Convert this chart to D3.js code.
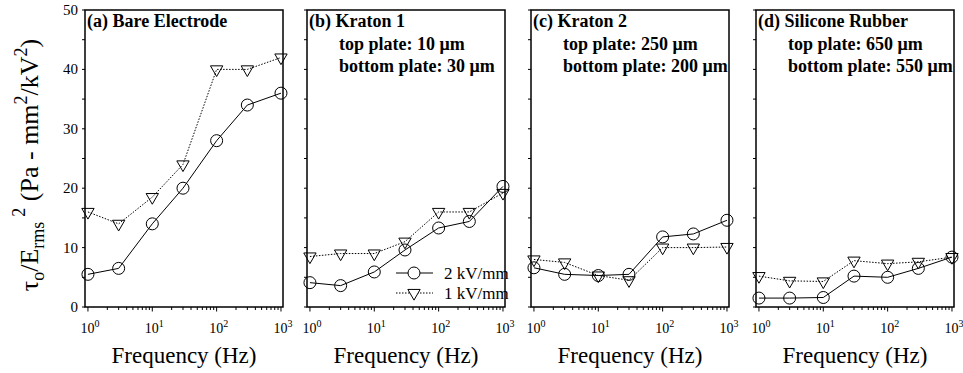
<!DOCTYPE html>
<html><head><meta charset="utf-8">
<script src="https://cdn.jsdelivr.net/npm/d3@7"></script>
<style>body{margin:0;background:#fff}svg{display:block} svg text{font-family:"Liberation Serif","Times New Roman",Times,serif;}</style>
</head><body>
<script>
const freqs = [1, 3, 10, 30, 100, 300, 1000];
const bare2 = [5.5, 6.5, 14.0, 20.0, 28.0, 34.0, 36.0];
const bare1 = [16.0, 14.0, 18.5, 24.0, 40.0, 40.0, 42.0];
const kraton1_2 = [4.1, 3.6, 5.9, 9.6, 13.3, 14.4, 20.3];
const kraton1_1 = [8.5, 9.0, 9.0, 11.0, 16.0, 16.0, 19.2];
const kraton2_2 = [6.6, 5.5, 5.3, 5.5, 11.8, 12.3, 14.6];
const kraton2_1 = [8.0, 7.5, 5.3, 4.5, 10.0, 10.0, 10.1];
const silicone2 = [1.5, 1.5, 1.6, 5.2, 5.0, 6.5, 8.4];
const silicone1 = [5.2, 4.4, 4.3, 7.8, 7.3, 7.6, 8.4];
const panelTitles = [
  ["(a) Bare Electrode"],
  ["(b) Kraton 1", "top plate: 10 \u03bcm", "bottom plate: 30 \u03bcm"],
  ["(c) Kraton 2", "top plate: 250 \u03bcm", "bottom plate: 200 \u03bcm"],
  ["(d) Silicone Rubber", "top plate: 650 \u03bcm", "bottom plate: 550 \u03bcm"]
];
const legendLabels = ["2 kV/mm", "1 kV/mm"];
const yTickLabels = [0, 10, 20, 30, 40, 50];
const xTickLabels = ["0", "1", "2", "3"];
const xLabel = "Frequency (Hz)";

const W = 963, H = 373;
const FONT = "Liberation Serif, Times New Roman, Times, serif";
const svg = d3.select("body").append("svg").attr("width", W).attr("height", H)
  .attr("font-family", FONT);

const panels = [
  {left: 85, s2: bare2, s1: bare1},
  {left: 307, s2: kraton1_2, s1: kraton1_1},
  {left: 531, s2: kraton2_2, s1: kraton2_1},
  {left: 756, s2: silicone2, s1: silicone1}
];
const pTop = 10, pBottom = 307, pw = 198, ph = pBottom - pTop;

const x = d3.scaleLog().domain([0.9, 1075]).range([0, pw]);
const y = d3.scaleLinear().domain([0, 50]).range([ph, 0]);

const tri = d3.symbol().type(d3.symbolTriangle).size(66);

panels.forEach((p, i) => {
  const g = svg.append("g").attr("transform", `translate(${p.left},${pTop})`);
  const ticks = [];
  for (let e = 0; e < 4; e++) for (let m = 1; m < 10; m++) { const v = m * Math.pow(10, e); if (v <= 1000) ticks.push(v); }
  g.selectAll(".xt").data(ticks).join("line")
    .attr("x1", d => x(d)).attr("x2", d => x(d))
    .attr("y1", ph).attr("y2", d => ph + ([1,10,100,1000].includes(d) ? 4.5 : 3))
    .attr("stroke", "#000").attr("stroke-width", 1);
  [1,10,100,1000].forEach((v, k) => {
    const t = g.append("text").attr("x", x(v) + 2).attr("y", ph + 26).attr("text-anchor", "middle")
      .attr("font-size", 14).attr("font-family", FONT);
    t.append("tspan").text("10");
    t.append("tspan").attr("dy", -6).attr("font-size", 10).text(xTickLabels[k]);
  });
  g.selectAll(".yt").data(d3.range(0, 51, 5)).join("line")
    .attr("x1", -3).attr("x2", 0).attr("y1", d => y(d)).attr("y2", d => y(d))
    .attr("stroke", "#000").attr("stroke-width", 1);
  if (i === 0) {
    g.selectAll(".yl").data(yTickLabels).join("text")
      .attr("x", -7).attr("y", d => y(d) + 5).attr("text-anchor", "end")
      .attr("font-size", 15).attr("font-family", FONT).text(d => d);
  }
  g.append("rect").attr("width", pw).attr("height", ph).attr("fill", "none")
    .attr("stroke", "#000").attr("stroke-width", 1.5);
  const line = d3.line().x((d, k) => x(freqs[k])).y(d => y(d));
  g.append("path").attr("d", line(p.s1)).attr("fill", "none").attr("stroke", "#000")
    .attr("stroke-width", 1).attr("stroke-dasharray", "1.5,1.5");
  g.append("path").attr("d", line(p.s2)).attr("fill", "none").attr("stroke", "#000")
    .attr("stroke-width", 1);
  g.selectAll(".tri").data(p.s1).join("path")
    .attr("d", tri).attr("transform", (d, k) => `translate(${x(freqs[k])},${y(d)}) rotate(180)`)
    .attr("fill", "none").attr("stroke", "#000").attr("stroke-width", 1);
  g.selectAll(".circ").data(p.s2).join("circle")
    .attr("cx", (d, k) => x(freqs[k])).attr("cy", d => y(d)).attr("r", 6)
    .attr("fill", "none").attr("stroke", "#000").attr("stroke-width", 1);
  panelTitles[i].forEach((t, k) => {
    g.append("text").attr("x", k === 0 ? 2 : 32).attr("y", 17 + k * 22.5)
      .attr("font-size", 18).attr("font-weight", "bold").attr("font-family", FONT).text(t);
  });
  g.append("text").attr("x", pw / 2).attr("y", ph + 56).attr("text-anchor", "middle")
    .attr("font-size", 23).attr("font-family", FONT).text(xLabel);
  if (i === 1) {
    const lg = g.append("g").attr("transform", `translate(89,${ph - 34})`);
    [0, 1].forEach(k => {
      const yy = k * 20;
      lg.append("line").attr("x1", 0).attr("x2", 37).attr("y1", yy).attr("y2", yy)
        .attr("stroke", "#000").attr("stroke-width", 1)
        .attr("stroke-dasharray", k === 1 ? "1.5,1.5" : null);
      if (k === 0) lg.append("circle").attr("cx", 18).attr("cy", yy).attr("r", 6)
        .attr("fill", "#fff").attr("stroke", "#000");
      else lg.append("path").attr("d", tri).attr("transform", `translate(18,${yy}) rotate(180)`)
        .attr("fill", "#fff").attr("stroke", "#000");
      lg.append("text").attr("x", 48).attr("y", yy + 5.5).attr("font-size", 17)
        .attr("font-family", FONT).text(legendLabels[k]);
    });
  }
});

const yl = svg.append("text").attr("transform", "translate(38,165) rotate(-90)")
  .attr("text-anchor", "middle").attr("font-size", 26).attr("font-family", FONT);
yl.append("tspan").text("\u03c4");
yl.append("tspan").attr("dy", 6).attr("font-size", 18).text("o");
yl.append("tspan").attr("dy", -6).text("/E");
yl.append("tspan").attr("dy", 6).attr("font-size", 18).text("rms");
yl.append("tspan").attr("dy", -19).attr("dx", 5).attr("font-size", 18).text("2");
yl.append("tspan").attr("dy", 13).text(" (Pa - mm");
yl.append("tspan").attr("dy", -11).attr("font-size", 18).text("2");
yl.append("tspan").attr("dy", 11).text("/kV");
yl.append("tspan").attr("dy", -11).attr("font-size", 18).text("2");
yl.append("tspan").attr("dy", 11).text(")");
</script>
</body></html>
